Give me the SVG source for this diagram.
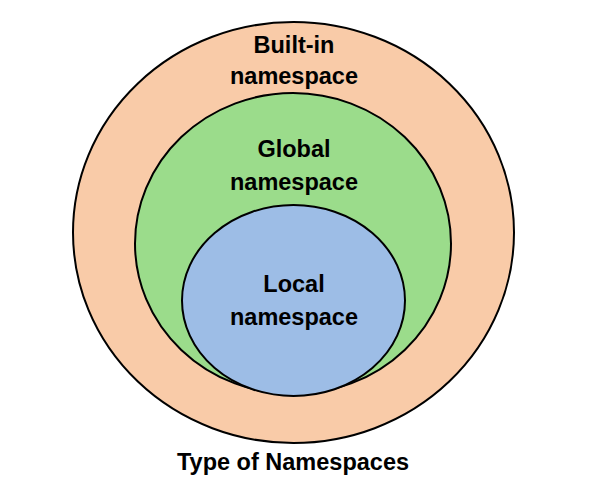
<svg xmlns="http://www.w3.org/2000/svg" width="589" height="482" viewBox="0 0 589 482">
<style>
.c{stroke:#000;stroke-width:2}
.t{font-family:"Liberation Sans",Arial,sans-serif;font-weight:bold;font-size:23.5px;fill:#000;text-anchor:middle}
</style>
<rect width="589" height="482" fill="#fff"/>
<g id="builtin">
<ellipse class="c" cx="293.5" cy="232.5" rx="220.5" ry="210.5" fill="#F9CBA8"/>
<text class="t" x="294" y="53">Built-in</text>
<text class="t" x="294" y="84">namespace</text>
</g>
<g id="global">
<ellipse class="c" cx="293" cy="243.5" rx="158" ry="150.5" fill="#9BDC8B"/>
<text class="t" x="294" y="157">Global</text>
<text class="t" x="294" y="190">namespace</text>
</g>
<g id="local">
<ellipse class="c" cx="293.5" cy="300.5" rx="111.5" ry="95.5" fill="#9DBDE6"/>
<text class="t" x="294" y="292">Local</text>
<text class="t" x="294" y="325">namespace</text>
</g>
<g id="connectors"/>
<text id="title" class="t" x="293" y="470">Type of Namespaces</text>
</svg>
